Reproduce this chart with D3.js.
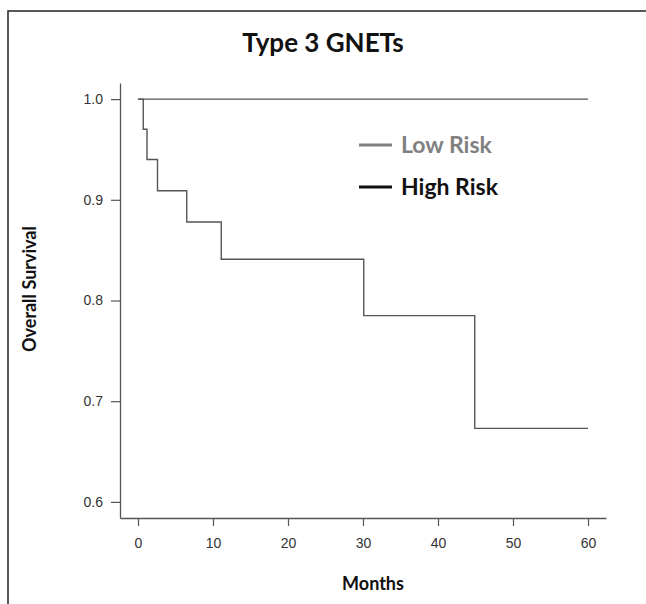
<!DOCTYPE html>
<html>
<head>
<meta charset="utf-8">
<script src="https://cdn.jsdelivr.net/npm/d3@7.9.0/dist/d3.min.js"></script>
<style>
  body { margin: 0; background: #fff; }
  svg { display: block; }
  .bold { font-family: Lato, "Open Sans", sans-serif; font-weight: bold; }
</style>
</head>
<body>
<svg id="chart" width="646" height="604"></svg>
<script>
// survival data
const lowTimes = [0, 60];
const lowSurv = [1.0, 1.0];
const highTimes = [0, 0.7, 1.2, 2.6, 6.5, 11.1, 30.1, 44.9, 60];
const highSurv = [1.0, 0.970, 0.940, 0.909, 0.878, 0.841, 0.785, 0.673, 0.673];
const xTicks = [0, 10, 20, 30, 40, 50, 60];
const yTicks = [0.6, 0.7, 0.8, 0.9, 1.0];
const legendLabels = ["Low Risk", "High Risk"];
const legendColors = ["#808080", "#111"];

const svg = d3.select("#chart");

// outer frame (runs off right and bottom edges)
svg.append("rect")
  .attr("x", 8).attr("y", 11)
  .attr("width", 700).attr("height", 620)
  .attr("fill", "none").attr("stroke", "#222").attr("stroke-width", 1.5);

// R-style 4% padded domains
let x = d3.scaleLinear().domain([-2.4, 62.4]).range([120, 606]);
let y = d3.scaleLinear().domain([0.584, 1.016]).range([518, 83]);

let xAxis = svg.append("g")
  .attr("transform", "translate(0,518)")
  .call(d3.axisBottom(x).tickValues(xTicks).tickSize(8).tickPadding(12).tickSizeOuter(0));
let yAxis = svg.append("g")
  .attr("transform", "translate(120,0)")
  .call(d3.axisLeft(y).tickValues(yTicks).tickFormat(d3.format(".1f")).tickSize(9).tickPadding(8).tickSizeOuter(0));

[xAxis, yAxis].forEach((g) => {
  g.attr("font-family", "'Liberation Sans', Arial, sans-serif").attr("font-size", 14);
  g.select(".domain").attr("stroke", "#555").attr("stroke-width", 1.3);
  g.selectAll(".tick line").attr("stroke", "#555").attr("stroke-width", 1.2);
  g.selectAll(".tick text").attr("fill", "#333");
});

// step curves
let line = d3.line()
  .x((d) => x(d[0]))
  .y((d) => y(d[1]))
  .curve(d3.curveStepAfter);

svg.append("path")
  .attr("d", line(d3.zip(lowTimes, lowSurv)))
  .attr("fill", "none").attr("stroke", "#555").attr("stroke-width", 1.4);

svg.append("path")
  .attr("d", line(d3.zip(highTimes, highSurv)))
  .attr("fill", "none").attr("stroke", "#555").attr("stroke-width", 1.4);

// title and axis labels
svg.append("text").attr("class", "bold")
  .attr("x", 323).attr("y", 52).attr("text-anchor", "middle")
  .attr("font-size", 26).attr("fill", "#111")
  .text("Type 3 GNETs");

svg.append("text").attr("class", "bold")
  .attr("x", 373).attr("y", 590).attr("text-anchor", "middle")
  .attr("font-size", 18).attr("fill", "#111")
  .text("Months");

svg.append("text").attr("class", "bold")
  .attr("transform", "translate(36,289) rotate(-90)")
  .attr("text-anchor", "middle")
  .attr("font-size", 18).attr("fill", "#111")
  .text("Overall Survival");

// legend
legendLabels.forEach((lab, i) => {
  let ly = 145 + i * 42;
  svg.append("line")
    .attr("x1", 359).attr("x2", 392).attr("y1", ly).attr("y2", ly)
    .attr("stroke", legendColors[i]).attr("stroke-width", 3);
  svg.append("text").attr("class", "bold")
    .attr("x", 401).attr("y", ly + 8)
    .attr("font-size", 23).attr("fill", legendColors[i])
    .text(lab);
});
</script>
</body>
</html>
